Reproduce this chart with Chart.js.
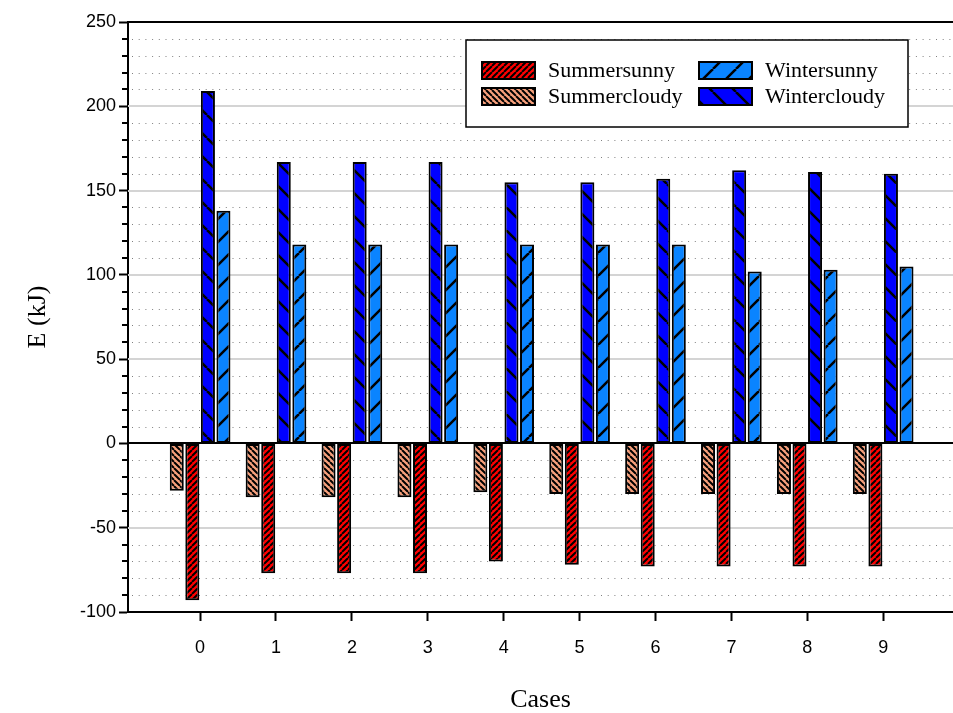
<!DOCTYPE html>
<html>
<head>
<meta charset="utf-8">
<title>E (kJ) by case</title>
<script src="https://cdn.jsdelivr.net/npm/chart.js@4.4.1/dist/chart.umd.min.js"></script>
<style>
  html, body { margin: 0; padding: 0; background: #fff; }
  #wrap { width: 953px; height: 713px; }
</style>
</head>
<body>
<div id="wrap"><canvas id="chart"></canvas></div>
<script>
// values
const cases = [0, 1, 2, 3, 4, 5, 6, 7, 8, 9];
const summerCloudy = [-28, -32, -32, -32, -29, -30, -30, -30, -30, -30];
const summerSunny = [-93, -77, -77, -77, -70, -72, -73, -73, -73, -73];
const winterCloudy = [209, 167, 167, 167, 155, 155, 157, 162, 161, 160];
const winterSunny = [138, 118, 118, 118, 118, 118, 118, 102, 103, 105];
const yLabels = [-100, -50, 0, 50, 100, 150, 200, 250];

const canvas = document.getElementById("chart");
const mainCtx = canvas.getContext("2d");

// diagonal hatch fill, dir "/" or "\"
function hatch(bg, size, width, dir) {
  const c = document.createElement("canvas");
  c.width = size;
  c.height = size;
  const g = c.getContext("2d");
  g.fillStyle = bg;
  g.fillRect(0, 0, size, size);
  g.strokeStyle = "#000";
  g.lineWidth = width;
  g.beginPath();
  for (let k = -1; k <= 1; k++) {
    if (dir === "/") {
      g.moveTo(k * size, size);
      g.lineTo(k * size + size, 0);
    } else {
      g.moveTo(k * size, 0);
      g.lineTo(k * size + size, size);
    }
  }
  g.stroke();
  return mainCtx.createPattern(c, "repeat");
}

const fills = {
  summerSunny: hatch("#ff0000", 6, 2, "/"),
  summerCloudy: hatch("#f7a07c", 6, 2, "\\"),
  winterSunny: hatch("#0a84ff", 23, 2.5, "/"),
  winterCloudy: hatch("#0000ff", 23, 2.5, "\\"),
};

function points(values) {
  return cases.map((c, i) => ({ x: c, y: values[i] }));
}

// gridlines: solid grey every 50, dotted every 10
const gridPlugin = {
  id: "gridLines",
  beforeDatasetsDraw(chart) {
    const { ctx, chartArea: a, scales: { y } } = chart;
    ctx.save();
    for (let v = -100; v <= 250; v += 10) {
      const py = Math.round(y.getPixelForValue(v));
      if (v % 50 === 0) {
        if (v !== 0 && v !== 250 && v !== -100) {
          ctx.strokeStyle = "#d4d4d4";
          ctx.lineWidth = 2;
          ctx.setLineDash([]);
          ctx.beginPath();
          ctx.moveTo(a.left, py);
          ctx.lineTo(a.right, py);
          ctx.stroke();
        }
      } else {
        ctx.strokeStyle = "#808080";
        ctx.lineWidth = 1;
        ctx.setLineDash([1, 5.7]);
        ctx.beginPath();
        ctx.moveTo(a.left + 4, py + 0.5);
        ctx.lineTo(a.right, py + 0.5);
        ctx.stroke();
        // short minor tick
        ctx.setLineDash([]);
        ctx.strokeStyle = "#000";
        ctx.lineWidth = 2;
        ctx.beginPath();
        ctx.moveTo(a.left - 6, py);
        ctx.lineTo(a.left, py);
        ctx.stroke();
      }
    }
    ctx.restore();
  },
  afterDatasetsDraw(chart) {
    const { ctx, chartArea: a, scales: { y } } = chart;
    ctx.save();
    ctx.strokeStyle = "#000";
    ctx.lineWidth = 2;
    const zero = Math.round(y.getPixelForValue(0));
    ctx.beginPath();
    ctx.moveTo(a.left, zero);
    ctx.lineTo(a.right, zero);
    ctx.moveTo(a.left, a.top);
    ctx.lineTo(a.right, a.top);
    ctx.stroke();
    ctx.restore();
  },
};

// boxed two-column legend inside the plot
const legendPlugin = {
  id: "boxLegend",
  afterDraw(chart) {
    const ctx = chart.ctx;
    const byName = {};
    chart.data.datasets.forEach((d) => (byName[d.label] = d));
    const rows = [
      ["Summersunny", 482, 62],
      ["Summercloudy", 482, 88],
      ["Wintersunny", 699, 62],
      ["Wintercloudy", 699, 88],
    ];
    ctx.save();
    ctx.fillStyle = "#fff";
    ctx.fillRect(466, 40, 442, 87);
    ctx.strokeStyle = "#000";
    ctx.lineWidth = 1.5;
    ctx.strokeRect(466, 40, 442, 87);
    ctx.font = "22px 'Liberation Serif', 'Times New Roman', serif";
    ctx.textBaseline = "middle";
    rows.forEach(([name, x, y]) => {
      ctx.fillStyle = byName[name].backgroundColor;
      ctx.fillRect(x, y, 53, 17);
      ctx.lineWidth = 2;
      ctx.strokeRect(x, y, 53, 17);
      ctx.fillStyle = "#000";
      ctx.fillText(name, x + 66, y + 9);
    });
    ctx.restore();
  },
};

const common = {
  borderColor: "#000",
  borderWidth: 2,
  borderSkipped: false,
  categoryPercentage: 0.82,
  barPercentage: 0.9,
};

new Chart(canvas, {
  type: "bar",
  data: {
    datasets: [
      { label: "Summercloudy", data: points(summerCloudy), backgroundColor: fills.summerCloudy, ...common },
      { label: "Summersunny", data: points(summerSunny), backgroundColor: fills.summerSunny, ...common },
      { label: "Wintercloudy", data: points(winterCloudy), backgroundColor: fills.winterCloudy, ...common },
      { label: "Wintersunny", data: points(winterSunny), backgroundColor: fills.winterSunny, ...common },
    ],
  },
  options: {
    responsive: true,
    maintainAspectRatio: false,
    animation: false,
    layout: { padding: { top: 22, right: 0, left: 0, bottom: 0 } },
    plugins: {
      legend: { display: false },
      tooltip: { enabled: false },
    },
    scales: {
      x: {
        type: "linear",
        min: -0.95,
        max: 9.92,
        offset: false,
        afterFit: (scale) => { scale.height = 101; },
        border: { color: "#000", width: 2 },
        grid: { offset: false, drawOnChartArea: false, tickLength: 9, tickColor: "#000", tickWidth: 2 },
        ticks: {
          stepSize: 1,
          includeBounds: false,
          autoSkip: false,
          maxRotation: 0,
          padding: 16,
          color: "#000",
          font: { family: "'Liberation Sans', Arial, sans-serif", size: 18 },
          callback: (v) => (cases.includes(v) ? String(v) : ""),
        },
        title: {
          display: true,
          text: "Cases",
          color: "#000",
          padding: { top: 0, bottom: 0 },
          font: { family: "'Liberation Serif', 'Times New Roman', serif", size: 26, lineHeight: 1 },
        },
      },
      y: {
        min: -100,
        max: 250,
        afterFit: (scale) => { scale.width = 128; },
        border: { color: "#000", width: 2 },
        grid: {
          drawOnChartArea: false,
          tickLength: 9,
          tickWidth: 2,
          tickColor: (c) => (c.tick && c.tick.value % 50 === 0 ? "#000" : "rgba(0,0,0,0)"),
        },
        ticks: {
          stepSize: 10,
          autoSkip: false,
          padding: 3,
          color: "#000",
          font: { family: "'Liberation Sans', Arial, sans-serif", size: 18 },
          callback: (v) => (yLabels.includes(v) ? String(v) : ""),
        },
        title: {
          display: true,
          text: "E (kJ)",
          color: "#000",
          padding: { top: 25, bottom: 0 },
          font: { family: "'Liberation Serif', 'Times New Roman', serif", size: 26, lineHeight: 1 },
        },
      },
    },
  },
  plugins: [gridPlugin, legendPlugin],
});
</script>
</body>
</html>
